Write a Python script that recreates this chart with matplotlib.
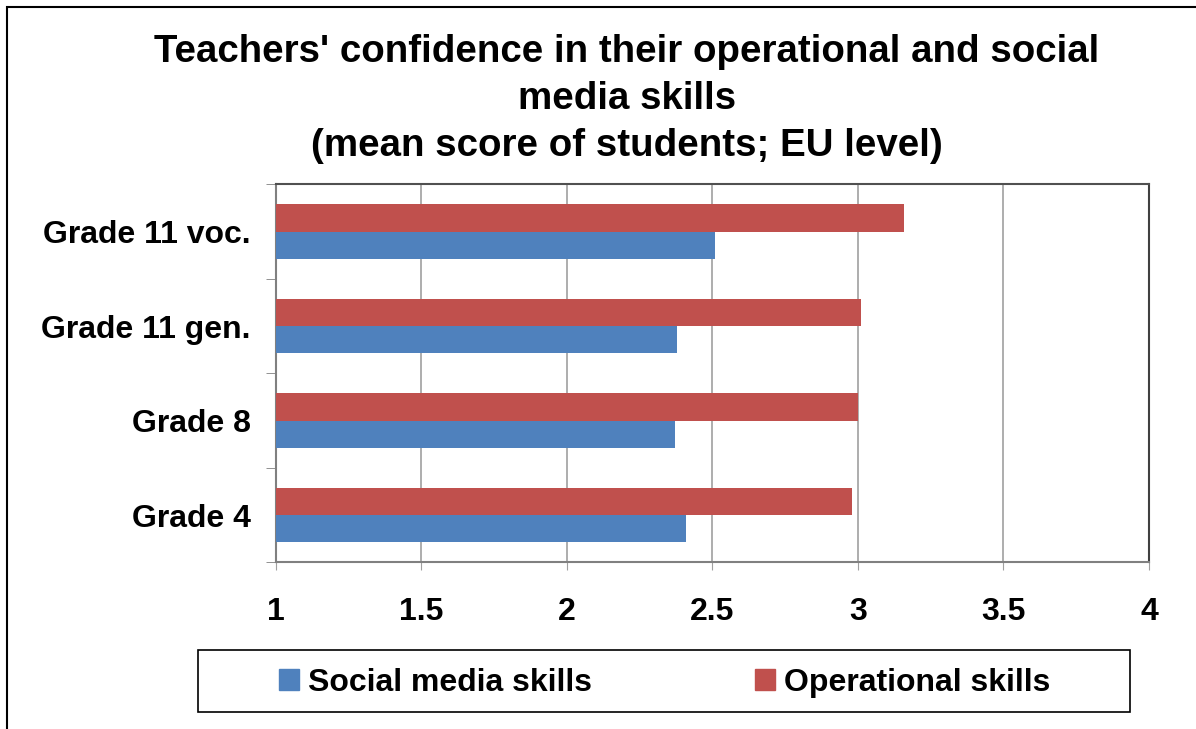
import matplotlib
matplotlib.use("Agg")
import matplotlib.pyplot as plt
from matplotlib.patches import Rectangle, Patch
import numpy as np

categories = ["Grade 4", "Grade 8", "Grade 11 gen.", "Grade 11 voc."]
social_media = [2.41, 2.37, 2.38, 2.51]
operational = [2.98, 3.00, 3.01, 3.16]
series_names = ["Social media skills", "Operational skills"]
xticks = [1, 1.5, 2, 2.5, 3, 3.5, 4]
xtick_labels = ["1", "1.5", "2", "2.5", "3", "3.5", "4"]
title = "Teachers' confidence in their operational and social\nmedia skills\n(mean score of students; EU level)"

BLUE = "#4F81BD"
RED = "#C0504D"

plt.rcParams['font.family'] = ['Liberation Sans', 'DejaVu Sans']

W, H = 1196, 729
fig = plt.figure(figsize=(W / 100, H / 100), dpi=100)

# outer frame
fig.patches.append(Rectangle((7 / W, -0.05), 1.2, 1 - 7 / H + 0.05, transform=fig.transFigure,
                             fill=False, edgecolor="black", linewidth=1.5))

ax = fig.add_axes([275.7 / W, 1 - 562.3 / H, (1149 - 275.7) / W, (562.3 - 184.3) / H])

y = np.arange(len(categories))
h = 0.29
ax.barh(y - h / 2, np.array(social_media) - 1, height=h, left=1, color=BLUE, label=series_names[0], zorder=3)
ax.barh(y + h / 2, np.array(operational) - 1, height=h, left=1, color=RED, label=series_names[1], zorder=3)

ax.set_xlim(1, 4)
ax.set_ylim(-0.5, len(categories) - 0.5)
ax.set_xticks(xticks)
ax.set_xticklabels(xtick_labels, fontsize=23, fontweight="bold")
ax.set_yticks(y)
ax.set_yticklabels(categories, fontsize=23, fontweight="bold")
ax.tick_params(axis="y", which="major", length=0, pad=18)
ax.set_yticks(np.arange(-0.5, len(categories), 1), minor=True)
ax.tick_params(axis="y", which="minor", length=7, color="#808080", direction="out")
ax.tick_params(axis="x", which="major", length=6, color="#a0a0a0", direction="out", pad=19)
ax.grid(axis="x", color="#a0a0a0", linewidth=1.2, zorder=0)

ax.spines["left"].set_color("#808080")
ax.spines["bottom"].set_color("#808080")
ax.spines["top"].set_color("#505050")
ax.spines["right"].set_color("#404040")
for s in ax.spines.values():
    s.set_linewidth(1.5)

fig.text(627 / W, 1 - 99 / H, title, ha="center", va="center", fontsize=27.7,
         fontweight="bold", linespacing=1.38)

# legend box
fig.patches.append(Rectangle((198 / W, 1 - 712 / H), (1130 - 198) / W, 62 / H,
                             transform=fig.transFigure, fill=False, edgecolor="black", linewidth=1.2))
handles = [Patch(color=BLUE), Patch(color=RED)]
fig.legend(handles, series_names, loc="center", bbox_to_anchor=(665 / W, 1 - 683 / H),
           ncol=2, frameon=False, prop={"size": 23, "weight": "bold"},
           handlelength=0.63, handleheight=0.63, handletextpad=0.28, columnspacing=5.1)

fig.savefig("out.png", dpi=100)
